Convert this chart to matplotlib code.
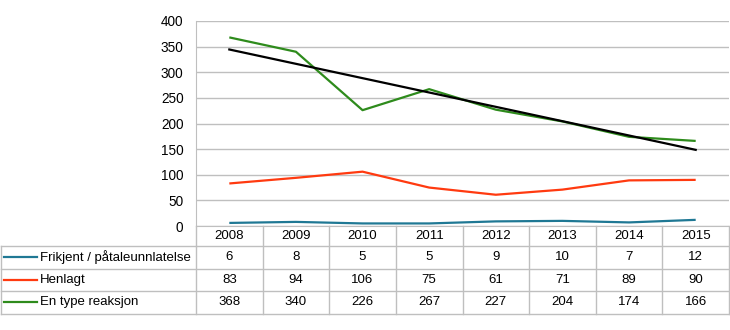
import matplotlib
matplotlib.use("Agg")
import matplotlib.pyplot as plt
import numpy as np
from matplotlib.lines import Line2D

years = ["2008", "2009", "2010", "2011", "2012", "2013", "2014", "2015"]
series_names = ["Frikjent / påtaleunnlatelse", "Henlagt", "En type reaksjon"]
frikjent = [6, 8, 5, 5, 9, 10, 7, 12]
henlagt = [83, 94, 106, 75, 61, 71, 89, 90]
reaksjon = [368, 340, 226, 267, 227, 204, 174, 166]
colors = ["#1f7894", "#ff3a10", "#2e8b1c"]
grid_col = "#bfbfbf"

plt.rcParams["font.family"] = ["Liberation Sans", "DejaVu Sans"]
plt.rcParams["font.size"] = 9

W, H = 730, 330
fig = plt.figure(figsize=(W / 100, H / 100), dpi=100)

# plot area in pixels
px_l, px_r, px_t, px_b = 196, 729, 21, 226
ax = fig.add_axes([px_l / W, 1 - px_b / H, (px_r - px_l) / W, (px_b - px_t) / H])

x = np.arange(len(years))
data = [frikjent, henlagt, reaksjon]
for vals, c in zip(data, colors):
    ax.plot(x, vals, color=c, lw=1.6, solid_capstyle="butt", zorder=3)

# linear trend for "En type reaksjon"
k, m = np.polyfit(x, reaksjon, 1)
ax.plot(x, k * x + m, color="black", lw=1.6, zorder=4)

ax.set_xlim(-0.5, len(years) - 0.5)
ax.set_ylim(0, 400)
ax.set_yticks(np.arange(0, 401, 50))
ax.yaxis.grid(True, color=grid_col, lw=1)
ax.set_axisbelow(True)
ax.set_xticks([])
for s in ["top", "right"]:
    ax.spines[s].set_visible(False)
ax.spines["left"].set_color(grid_col)
ax.spines["bottom"].set_color(grid_col)
ax.tick_params(axis="y", length=0, pad=9, labelsize=9.8, colors="black")

# data table below the plot (figure pixel coords)
def fx(p):
    return p / W

def fy(p):
    return 1 - p / H

def hline(x0, x1, y):
    fig.add_artist(Line2D([fx(x0), fx(x1)], [fy(y), fy(y)], color=grid_col, lw=1))

def vline(xp, y0, y1):
    fig.add_artist(Line2D([fx(xp), fx(xp)], [fy(y0), fy(y1)], color=grid_col, lw=1))

rows = [226, 246, 268.5, 291, 313.5]
cw = (px_r - px_l) / len(years)
hline(px_l, px_r, rows[1])
for r in rows[2:]:
    hline(0.5, px_r, r)
hline(0.5, px_l, rows[1])
vline(0.5, rows[1], rows[-1])
vline(px_l, px_b, rows[-1])
for i in range(1, len(years) + 1):
    vline(px_l + i * cw, px_b, rows[-1])

for i, yr in enumerate(years):
    fig.text(fx(px_l + (i + 0.5) * cw), fy((rows[0] + rows[1]) / 2), yr,
             ha="center", va="center", fontsize=9.5)

for j, (name, vals, c) in enumerate(zip(series_names, data, colors)):
    yc = (rows[j + 1] + rows[j + 2]) / 2
    fig.add_artist(Line2D([fx(4), fx(37)], [fy(yc), fy(yc)], color=c, lw=1.6))
    fig.text(fx(40), fy(yc), name, ha="left", va="center", fontsize=9.5)
    for i, v in enumerate(vals):
        fig.text(fx(px_l + (i + 0.5) * cw), fy(yc), str(v),
                 ha="center", va="center", fontsize=9.5)

fig.savefig("out.png", dpi=100, facecolor="white")
